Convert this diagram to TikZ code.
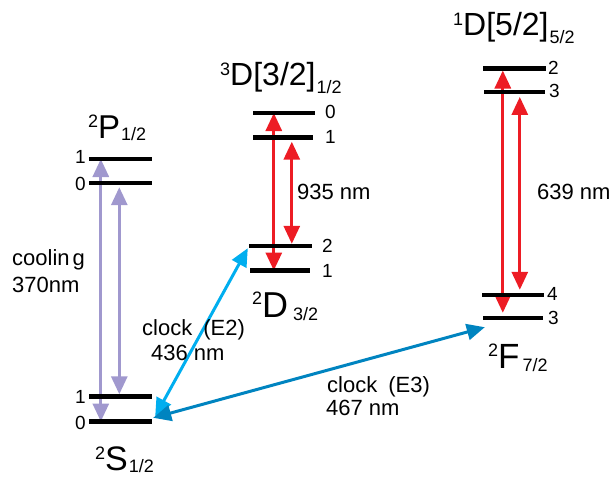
\documentclass[tikz,border=0pt]{standalone}
\usepackage{fontspec}
\setmainfont{Liberation Sans}
\usetikzlibrary{arrows.meta}
\definecolor{cpurple}{RGB}{160,152,206}
\definecolor{cred}{RGB}{237,28,36}
\definecolor{ccyan}{RGB}{0,174,239}
\definecolor{cblue}{RGB}{0,132,192}
\newcommand\StLab[5]{{\fontsize{#4}{#4}\selectfont\raisebox{#5}{\fontsize{18}{18}\selectfont #1}#2}}
\newcommand\SubLab[2]{\raisebox{-#2}{\fontsize{18}{18}\selectfont #1}}
\begin{document}
\begin{tikzpicture}[x=1pt,y=-1pt,
  lvl/.style={fill=black,draw=none,inner sep=0pt,minimum height=4pt},
  num/.style={inner sep=0pt,font=\fontsize{19}{19}\selectfont},
  txt/.style={inner sep=0pt,anchor=base west,font=\fontsize{22}{22}\selectfont},
  statel/.style={inner sep=0pt,anchor=base west},
  dtip/.style={{Triangle[length=18pt,width=16pt]}-{Triangle[length=18pt,width=16pt]}},
  purp/.style={dtip,draw=cpurple,line width=3pt},
  redar/.style={dtip,draw=cred,line width=3pt},
  cyar/.style={dtip,draw=ccyan,line width=3pt},
  blar/.style={dtip,draw=cblue,line width=3pt}]
\path[use as bounding box] (0,0) rectangle (616,477);

% level nodes
\path
  (120.5,421.5) node[lvl,minimum width=63pt] (S0) {}
  (120.5,396.5) node[lvl,minimum width=63pt] (S1) {}
  (120.5,159)   node[lvl,minimum width=63pt] (P1) {}
  (120.5,183)   node[lvl,minimum width=63pt] (P0) {}
  (284,113)     node[lvl,minimum width=62pt] (D0) {}
  (283,137.5)   node[lvl,minimum width=60pt] (D1) {}
  (280.5,246)   node[lvl,minimum width=63pt] (D2) {}
  (280,270.5)   node[lvl,minimum width=60pt] (Dl) {}
  (514.5,68.3)  node[lvl,minimum width=63pt] (F2) {}
  (514.5,91.7)  node[lvl,minimum width=61pt] (F3) {}
  (513,295)     node[lvl,minimum width=62pt] (F4) {}
  (513,318)     node[lvl,minimum width=60pt] (F3b) {};

% arrows
\draw[purp] ([xshift=12pt]P1.west) -- ([xshift=12pt]S0.west);
\draw[purp] ([shift={(30.5pt,-2pt)}]P0.south west) -- ([xshift=30.5pt]S1.north west);
\draw[redar] ([xshift=21pt]D0.west) -- ([xshift=24pt]Dl.west);
\draw[redar] ([shift={(39pt,-2pt)}]D1.south west) -- ([xshift=43pt]D2.north west);
\draw[redar] ([xshift=20pt]F2.south west) -- ([shift={(20pt,3pt)}]F3b.north west);
\draw[redar] ([shift={(36pt,-3pt)}]F3.south west) -- ([shift={(38pt,3pt)}]F4.north west);
\draw[cyar] ([shift={(3pt,3pt)}]S0.north east) -- ([xshift=-1pt]D2.south west);
\draw[blar] ([shift={(1pt,1.5pt)}]S0.north east) -- ([shift={(2pt,-7pt)}]F3b.south west);

% redraw levels on top
\foreach \n in {S0,S1,P1,P0,D0,D1,D2,Dl,F2,F3,F4,F3b}
  \fill (\n.north west) rectangle (\n.south east);

% level numbers
\node[num,anchor=east] (nS0) at (86,423) {0};
\node[num,anchor=east] (nS1) at (86,397) {1};
\node[num,anchor=east] (nP1) at (86,157) {1};
\node[num,anchor=east] (nP0) at (86,184) {0};
\node[num,anchor=west] (nD0) at (325,112) {0};
\node[num,anchor=west] (nD1) at (325,137) {1};
\node[num,anchor=west] (nD2) at (322,246) {2};
\node[num,anchor=west] (nDl) at (322,271) {1};
\node[num,anchor=west] (nF2) at (548,68) {2};
\node[num,anchor=west] (nF3) at (549,91) {3};
\node[num,anchor=west] (nF4) at (547,294) {4};
\node[num,anchor=west] (nF3b) at (548,318) {3};

% state labels
\node[statel] (tP) at (88,138) {\StLab{2}{P}{1/2}{33}{10.5pt}\kern1pt\SubLab{1/2}{2pt}};
\node[statel] (tS) at (95,470) {\StLab{2}{S}{1/2}{34}{11pt}\kern1pt\SubLab{1/2}{2pt}};
\node[statel] (tD) at (252,317) {\StLab{2}{D}{3/2}{36}{12.5pt}\kern5pt\SubLab{3/2}{3pt}};
\node[statel] (tF) at (488,368) {\StLab{2}{F}{7/2}{35}{12pt}\kern3pt\SubLab{7/2}{3pt}};
\node[statel] (t3D) at (220,85) {\StLab{3}{D[3/2]}{}{32}{10pt}\kern1pt\SubLab{1/2}{8pt}};
\node[statel] (t1D) at (453,35) {\StLab{1}{D[5/2]}{}{32}{10pt}\kern1pt\SubLab{5/2}{8pt}};

% texts
\node[txt] (c1) at (12,265) {coolin\kern3pt g};
\node[txt] (c2) at (12,292) {370nm};
\node[txt] (e2a) at (142,335) {clock\enspace(E2)};
\node[txt] (e2b) at (151,360) {436 nm};
\node[txt] (e3a) at (327,392) {clock\enspace(E3)};
\node[txt] (e3b) at (326,415) {467 nm};
\node[txt] (w1) at (297,199) {935 nm};
\node[txt] (w2) at (537,199) {639 nm};
\end{tikzpicture}
\end{document}
